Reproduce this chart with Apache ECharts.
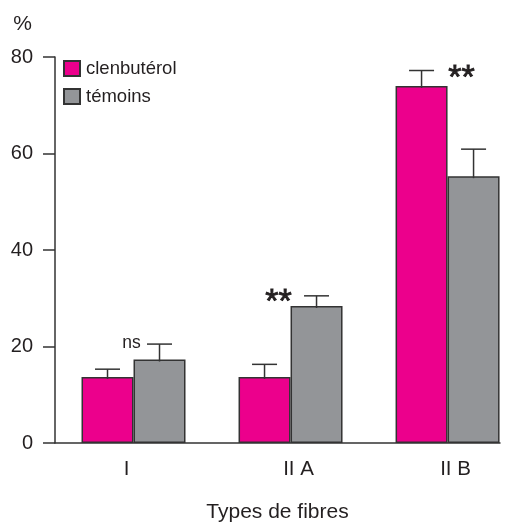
<!DOCTYPE html>
<html>
<head>
<meta charset="utf-8">
<script src="https://cdn.jsdelivr.net/npm/echarts@6/dist/echarts.min.js"></script>
<style>html,body{margin:0;padding:0;background:#fff;}#c{width:508px;height:522px;}</style>
</head>
<body>
<div id="c"></div>
<script>
// ---- data ----
var categories = ['I', 'II A', 'II B'];
var seriesNames = ['clenbutérol', 'témoins'];
var clenValues = [13.7, 13.7, 74.0];
var clenErrors = [1.6, 2.6, 3.2];
var temoinsValues = [17.3, 28.4, 55.3];
var temoinsErrors = [3.2, 2.1, 5.6];
var sigLabels = ['ns', '**', '**'];
var yTicks = [0, 20, 40, 60, 80];

// ---- layout ----
var gridLeft = 55, gridRight = 8, gridTop = 57, gridBottom = 79;
var W = 508;
var gridW = W - gridLeft - gridRight;
var xMax = 2.834;
var pxPerUnit = gridW / xMax;
var barW = 52;
var half = barW / 2 / pxPerUnit;
var sigOffsets = [[-2, -1], [-12, 7], [14, 8]];
var labelStyles = ['l', 'r', 'r'];
var FONT = '"Liberation Sans", Arial, sans-serif';
var INK = '#231f20';

function center(i) { return i + 0.5; }

var clenData = clenValues.map(function (v, i) { return [center(i) - half, v]; });
var temData = temoinsValues.map(function (v, i) { return [center(i) + half, v]; });

var errData = [];
clenValues.forEach(function (v, i) { errData.push([center(i) - half, v, v + clenErrors[i]]); });
temoinsValues.forEach(function (v, i) { errData.push([center(i) + half, v, v + temoinsErrors[i]]); });

var sigData = sigLabels.map(function (s, i) {
  var up = Math.max(clenValues[i] + clenErrors[i], temoinsValues[i] + temoinsErrors[i]);
  return [center(i), up, i];
});

var chart = echarts.init(document.getElementById('c'));
chart.setOption({
  animation: false,
  backgroundColor: '#fff',
  textStyle: { fontFamily: FONT, color: INK },
  grid: { left: gridLeft, right: gridRight, top: gridTop, bottom: gridBottom, containLabel: false, outerBoundsMode: 'none' },
  legend: {
    orient: 'vertical', left: 63, top: 59, padding: 0,
    itemWidth: 16, itemHeight: 15, itemGap: 9,
    icon: 'rect',
    textStyle: { fontFamily: FONT, fontSize: 18.5, color: INK, padding: [0, 0, 0, 1] },
    data: seriesNames
  },
  xAxis: {
    type: 'value', min: 0, max: xMax, interval: 0.5,
    name: 'Types de fibres', nameLocation: 'middle', nameGap: 59,
    nameTextStyle: { fontFamily: FONT, fontSize: 21, color: INK, verticalAlign: 'top' },
    axisLine: { show: true, lineStyle: { color: '#333', width: 1.5 } },
    axisTick: { show: false },
    splitLine: { show: false },
    axisLabel: {
      fontFamily: FONT, fontSize: 20.5, color: INK, margin: 16,
      showMaxLabel: false, showMinLabel: false,
      rich: {
        l: { fontFamily: FONT, fontSize: 20.5, color: INK, padding: [0, 14, 0, 0] },
        r: { fontFamily: FONT, fontSize: 20.5, color: INK, padding: [0, 0, 0, 16] }
      },
      formatter: function (v) {
        var i = Math.round(v - 0.5);
        if (Math.abs(v - 0.5 - i) < 1e-6 && i >= 0 && i < categories.length) {
          return '{' + labelStyles[i] + '|' + categories[i] + '}';
        }
        return '';
      }
    }
  },
  yAxis: {
    type: 'value', min: yTicks[0], max: yTicks[yTicks.length - 1], interval: 20,
    name: '%', nameLocation: 'end', nameGap: 22,
    nameTextStyle: { fontFamily: FONT, fontSize: 21, color: INK, align: 'right', padding: [0, 23, 0, 0] },
    axisLine: { show: true, lineStyle: { color: '#333', width: 1.5 } },
    axisTick: { show: true, inside: false, length: 12, lineStyle: { color: '#333', width: 1.5 } },
    splitLine: { show: false },
    axisLabel: { fontFamily: FONT, fontSize: 20, color: INK, margin: 22 }
  },
  series: [
    {
      name: seriesNames[0], type: 'bar', data: clenData, barWidth: barW, barGap: '-100%',
      itemStyle: { color: '#ec008c', borderColor: '#333', borderWidth: 1.5 }
    },
    {
      name: seriesNames[1], type: 'bar', data: temData, barWidth: barW, barGap: '-100%',
      itemStyle: { color: '#939598', borderColor: '#333', borderWidth: 1.5 }
    },
    {
      type: 'custom', data: errData, z: 5, silent: true,
      renderItem: function (params, api) {
        var lo = api.coord([api.value(0), api.value(1)]);
        var hi = api.coord([api.value(0), api.value(2)]);
        var st = { stroke: '#333', lineWidth: 1.5 };
        return {
          type: 'group', children: [
            { type: 'line', shape: { x1: lo[0], y1: lo[1] + 2, x2: hi[0], y2: hi[1] }, style: st },
            { type: 'line', shape: { x1: hi[0] - 12.5, y1: hi[1], x2: hi[0] + 12.5, y2: hi[1] }, style: st }
          ]
        };
      }
    },
    {
      type: 'custom', data: sigData, z: 6, silent: true,
      renderItem: function (params, api) {
        var i = api.value(2);
        var p = api.coord([api.value(0), api.value(1)]);
        var txt = sigLabels[i];
        var off = sigOffsets[i];
        var isNs = txt === 'ns';
        return {
          type: 'text', x: p[0] + off[0], y: p[1] + off[1],
          style: {
            text: txt, fill: INK, font: (isNs ? '17.5px ' : '34px ') + FONT,
            stroke: isNs ? null : INK, lineWidth: isNs ? 0 : 0.9,
            align: 'center', verticalAlign: 'middle'
          }
        };
      }
    }
  ]
});
</script>
</body>
</html>
